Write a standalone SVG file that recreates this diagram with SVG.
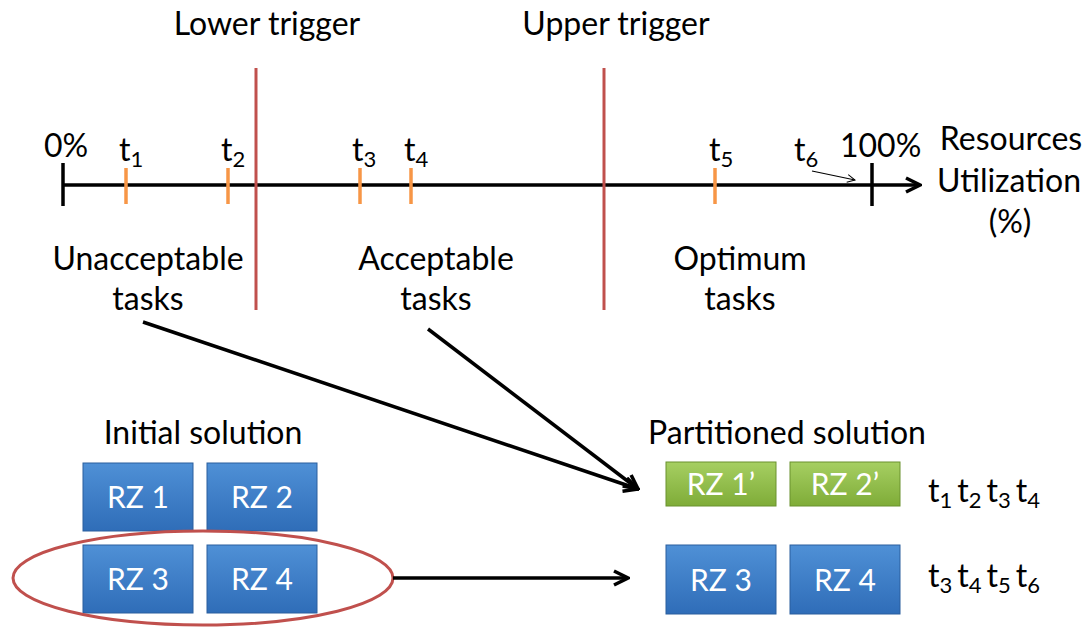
<svg xmlns="http://www.w3.org/2000/svg" width="1090" height="628" viewBox="0 0 1090 628">
<style>
text{font-family:Lato,"Open Sans",sans-serif;fill:#000}
.t{font-size:32px}
.lbl{font-size:32px;text-anchor:middle}
.rz{font-size:30px;fill:#fff;text-anchor:middle}
.sub{font-size:22px}
.axis{stroke:#000;stroke-width:3.5;fill:none}
.tick{stroke:#f79646;stroke-width:3.5}
.trig{stroke:#c0504d;stroke-width:3}
.conn{stroke:#000;stroke-width:3.5;fill:none}
</style>
<defs>
<linearGradient id="gb" x1="0" y1="0" x2="0" y2="1">
<stop offset="0" stop-color="#4f90d6"/><stop offset="1" stop-color="#2f6db8"/>
</linearGradient>
<linearGradient id="gg" x1="0" y1="0" x2="0" y2="1">
<stop offset="0" stop-color="#a6cf62"/><stop offset="1" stop-color="#7fac38"/>
</linearGradient>
<marker id="ah" viewBox="0 0 10 10" refX="9" refY="5" markerWidth="5" markerHeight="5" orient="auto" markerUnits="strokeWidth">
<path d="M1,1 L9,5 L1,9" fill="none" stroke="#000" stroke-width="2"/>
</marker>
<marker id="ahs" viewBox="0 0 10 10" refX="9" refY="5" markerWidth="8" markerHeight="8" orient="auto" markerUnits="strokeWidth">
<path d="M1,1 L9,5 L1,9" fill="none" stroke="#000" stroke-width="1"/>
</marker>
</defs>

<g id="axis">
<line class="axis" x1="63" y1="185" x2="920" y2="185" marker-end="url(#ah)"/>
<line class="axis" x1="63" y1="163" x2="63" y2="206"/>
<line class="axis" x1="872" y1="163" x2="872" y2="206"/>
<line class="tick" x1="126" y1="168" x2="126" y2="204"/>
<line class="tick" x1="228" y1="168" x2="228" y2="204"/>
<line class="tick" x1="360" y1="168" x2="360" y2="204"/>
<line class="tick" x1="411" y1="168" x2="411" y2="204"/>
<line class="tick" x1="715" y1="168" x2="715" y2="204"/>
<line class="trig" x1="256" y1="68" x2="256" y2="310"/>
<line class="trig" x1="604" y1="68" x2="604" y2="310"/>
<line x1="812" y1="171" x2="855" y2="180" stroke="#000" stroke-width="1.2" marker-end="url(#ahs)"/>
</g>

<g id="axis-labels">
<text class="lbl" x="267" y="35">Lower trigger</text>
<text class="lbl" x="616" y="35">Upper trigger</text>
<text class="t" x="44" y="157">0%</text>
<text class="t" x="119" y="161">t<tspan class="sub" dy="6">1</tspan></text>
<text class="t" x="221" y="161">t<tspan class="sub" dy="6">2</tspan></text>
<text class="t" x="352" y="161">t<tspan class="sub" dy="6">3</tspan></text>
<text class="t" x="404" y="161">t<tspan class="sub" dy="6">4</tspan></text>
<text class="t" x="709" y="161">t<tspan class="sub" dy="6">5</tspan></text>
<text class="t" x="794" y="161">t<tspan class="sub" dy="6">6</tspan></text>
<text class="t" x="840" y="157">100%</text>
<text class="lbl" x="1011" y="150">Resources</text>
<text class="lbl" x="1009" y="192">Utilization</text>
<text class="lbl" x="1010" y="233">(%)</text>
<text class="lbl" x="148" y="270">Unacceptable</text>
<text class="lbl" x="148" y="310">tasks</text>
<text class="lbl" x="436" y="270">Acceptable</text>
<text class="lbl" x="436" y="310">tasks</text>
<text class="lbl" x="740" y="270">Optimum</text>
<text class="lbl" x="740" y="310">tasks</text>
<text class="lbl" x="203" y="444">Initial solution</text>
<text class="lbl" x="787" y="444">Partitioned solution</text>
</g>

<g id="initial">
<g id="rz1"><rect x="83" y="463" width="110" height="68" fill="url(#gb)" stroke="#2a5f9e" stroke-width="1"/><text class="rz" x="138" y="508">RZ 1</text></g>
<g id="rz2"><rect x="207" y="463" width="110" height="68" fill="url(#gb)" stroke="#2a5f9e" stroke-width="1"/><text class="rz" x="262" y="508">RZ 2</text></g>
<g id="rz3"><rect x="83" y="545" width="110" height="68" fill="url(#gb)" stroke="#2a5f9e" stroke-width="1"/><text class="rz" x="138" y="590">RZ 3</text></g>
<g id="rz4"><rect x="207" y="545" width="110" height="68" fill="url(#gb)" stroke="#2a5f9e" stroke-width="1"/><text class="rz" x="262" y="590">RZ 4</text></g>
<ellipse id="selection" cx="203" cy="578" rx="190" ry="47" fill="none" stroke="#c0504d" stroke-width="3"/>
</g>

<g id="partitioned">
<g id="rz1p"><rect x="666" y="462" width="110" height="44" fill="url(#gg)" stroke="#6a922e" stroke-width="1"/><text class="rz" x="721" y="495">RZ 1’</text></g>
<g id="rz2p"><rect x="790" y="462" width="110" height="44" fill="url(#gg)" stroke="#6a922e" stroke-width="1"/><text class="rz" x="845" y="495">RZ 2’</text></g>
<g id="rz3p"><rect x="666" y="545" width="110" height="69" fill="url(#gb)" stroke="#2a5f9e" stroke-width="1"/><text class="rz" x="721" y="591">RZ 3</text></g>
<g id="rz4p"><rect x="790" y="545" width="110" height="69" fill="url(#gb)" stroke="#2a5f9e" stroke-width="1"/><text class="rz" x="845" y="591">RZ 4</text></g>
<text class="t" x="928" y="502">t<tspan class="sub" dy="6">1</tspan><tspan dy="-6" dx="5">t</tspan><tspan class="sub" dy="6">2</tspan><tspan dy="-6" dx="5">t</tspan><tspan class="sub" dy="6">3</tspan><tspan dy="-6" dx="5">t</tspan><tspan class="sub" dy="6">4</tspan></text>
<text class="t" x="928" y="587">t<tspan class="sub" dy="6">3</tspan><tspan dy="-6" dx="5">t</tspan><tspan class="sub" dy="6">4</tspan><tspan dy="-6" dx="5">t</tspan><tspan class="sub" dy="6">5</tspan><tspan dy="-6" dx="5">t</tspan><tspan class="sub" dy="6">6</tspan></text>
</g>

<g id="connectors">
<line class="conn" x1="143" y1="322" x2="638" y2="489" marker-end="url(#ah)"/>
<line class="conn" x1="428" y1="329" x2="638" y2="489" marker-end="url(#ah)"/>
<line class="conn" x1="393" y1="578" x2="628" y2="578" marker-end="url(#ah)"/>
</g>
</svg>
